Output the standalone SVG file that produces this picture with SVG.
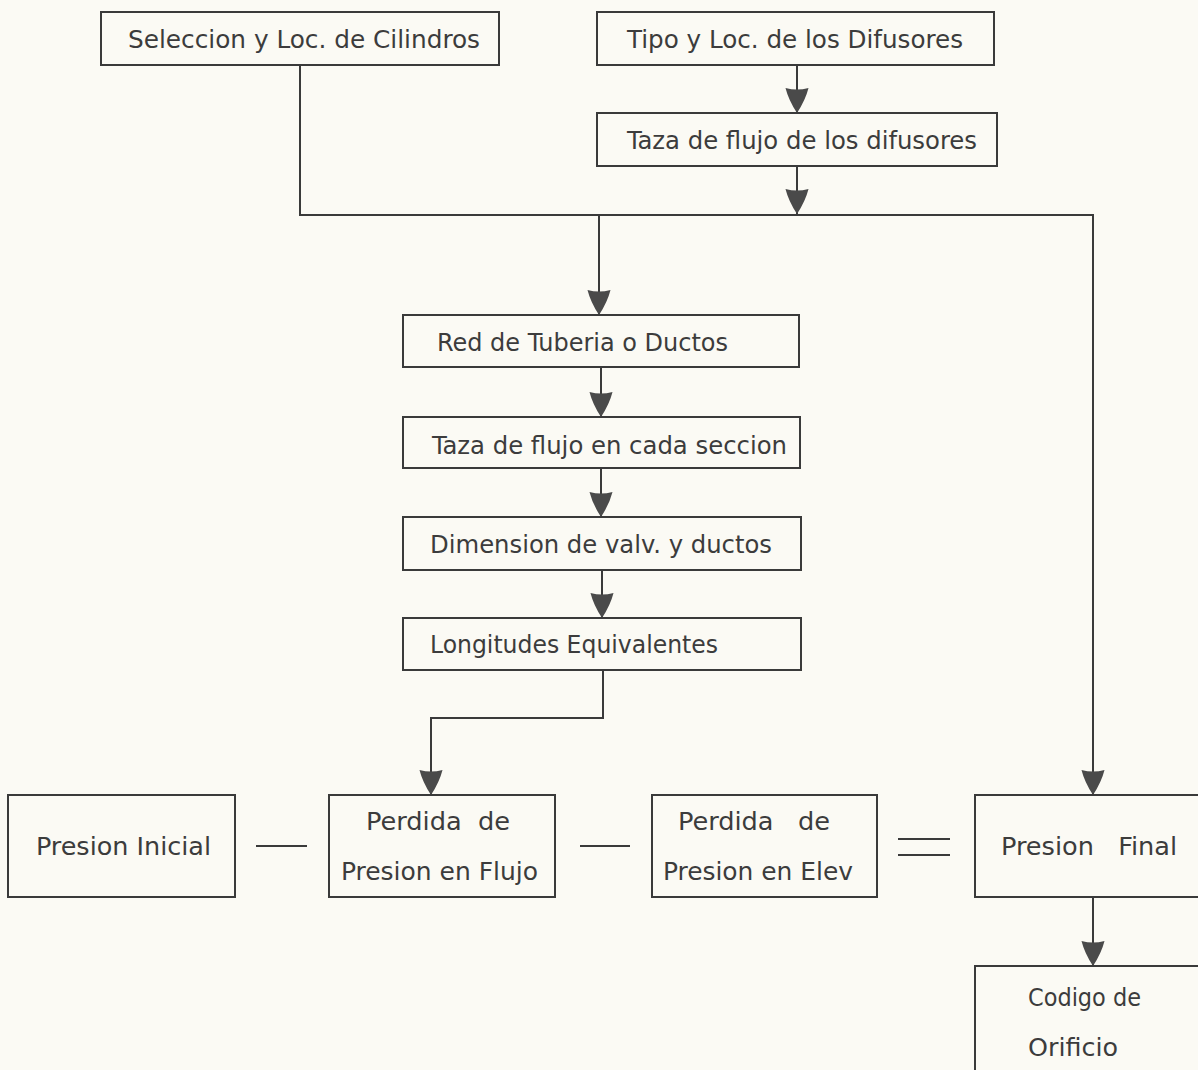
<svg xmlns="http://www.w3.org/2000/svg" width="1198" height="1070" viewBox="0 0 1198 1070">
<style>
.box{fill:none;stroke:#3a3a3a;stroke-width:2}
.t{font-family:"DejaVu Sans","Liberation Sans",sans-serif;font-stretch:condensed;font-size:24px;fill:#3c3c3c;white-space:pre}
.c{fill:none;stroke:#3a3a3a;stroke-width:2}
</style>
<defs>
<marker id="ah" markerUnits="userSpaceOnUse" markerWidth="26" markerHeight="24" refX="25" refY="11.5" orient="auto">
<path d="M0,0 Q12,3 25,11.5 Q12,20 0,23 Q3,11.5 0,0 Z" fill="#4a4a4a"/>
</marker>
</defs>
<rect width="1198" height="1070" fill="#fbfaf4"/>
<g id="connectors">
<path class="c" d="M300,65 V215 H1093 V795" marker-end="url(#ah)"/>
<path class="c" d="M599,215 V315" marker-end="url(#ah)"/>
<path class="c" d="M797,65 V113" marker-end="url(#ah)"/>
<path class="c" d="M797,166 V214" marker-end="url(#ah)"/>
<path class="c" d="M601,367 V417" marker-end="url(#ah)"/>
<path class="c" d="M601,468 V517" marker-end="url(#ah)"/>
<path class="c" d="M602,570 V618" marker-end="url(#ah)"/>
<path class="c" d="M603,670 V718 H431 V795" marker-end="url(#ah)"/>
<path class="c" d="M1093,897 V966" marker-end="url(#ah)"/>
<path class="c" d="M256,846 H307"/>
<path class="c" d="M580,846 H630"/>
<path class="c" d="M898,839 H950 M898,855 H950"/>
</g>
<g id="n1"><rect class="box" x="101" y="12" width="398" height="53"/><text class="t" x="128" y="48" textLength="352" lengthAdjust="spacingAndGlyphs">Seleccion y Loc. de Cilindros</text></g>
<g id="n2"><rect class="box" x="597" y="12" width="397" height="53"/><text class="t" x="627" y="48" textLength="336" lengthAdjust="spacingAndGlyphs">Tipo y Loc. de los Difusores</text></g>
<g id="n3"><rect class="box" x="597" y="113" width="400" height="53"/><text class="t" x="627" y="149" textLength="350" lengthAdjust="spacingAndGlyphs">Taza de flujo de los difusores</text></g>
<g id="n4"><rect class="box" x="403" y="315" width="396" height="52"/><text class="t" x="437" y="351" textLength="291" lengthAdjust="spacingAndGlyphs">Red de Tuberia o Ductos</text></g>
<g id="n5"><rect class="box" x="403" y="417" width="397" height="51"/><text class="t" x="432" y="454" textLength="355" lengthAdjust="spacingAndGlyphs">Taza de flujo en cada seccion</text></g>
<g id="n6"><rect class="box" x="403" y="517" width="398" height="53"/><text class="t" x="430" y="553" textLength="342" lengthAdjust="spacingAndGlyphs">Dimension de valv. y ductos</text></g>
<g id="n7"><rect class="box" x="403" y="618" width="398" height="52"/><text class="t" x="430" y="653" textLength="288" lengthAdjust="spacingAndGlyphs">Longitudes Equivalentes</text></g>
<g id="n8"><rect class="box" x="8" y="795" width="227" height="102"/><text class="t" x="36" y="855" textLength="175" lengthAdjust="spacingAndGlyphs">Presion Inicial</text></g>
<g id="n9"><rect class="box" x="329" y="795" width="226" height="102"/><text class="t" x="366" y="830" textLength="144" lengthAdjust="spacingAndGlyphs">Perdida  de</text><text class="t" x="341" y="880" textLength="197" lengthAdjust="spacingAndGlyphs">Presion en Flujo</text></g>
<g id="n10"><rect class="box" x="652" y="795" width="225" height="102"/><text class="t" x="678" y="830" textLength="152" lengthAdjust="spacingAndGlyphs">Perdida   de</text><text class="t" x="663" y="880" textLength="190" lengthAdjust="spacingAndGlyphs">Presion en Elev</text></g>
<g id="n11"><rect class="box" x="975" y="795" width="240" height="102"/><text class="t" x="1001" y="855" textLength="176" lengthAdjust="spacingAndGlyphs">Presion   Final</text></g>
<g id="n12"><rect class="box" x="975" y="966" width="240" height="130"/><text class="t" x="1028" y="1006" textLength="113" lengthAdjust="spacingAndGlyphs">Codigo de</text><text class="t" x="1028" y="1056" textLength="90" lengthAdjust="spacingAndGlyphs">Orificio</text></g>
</svg>
